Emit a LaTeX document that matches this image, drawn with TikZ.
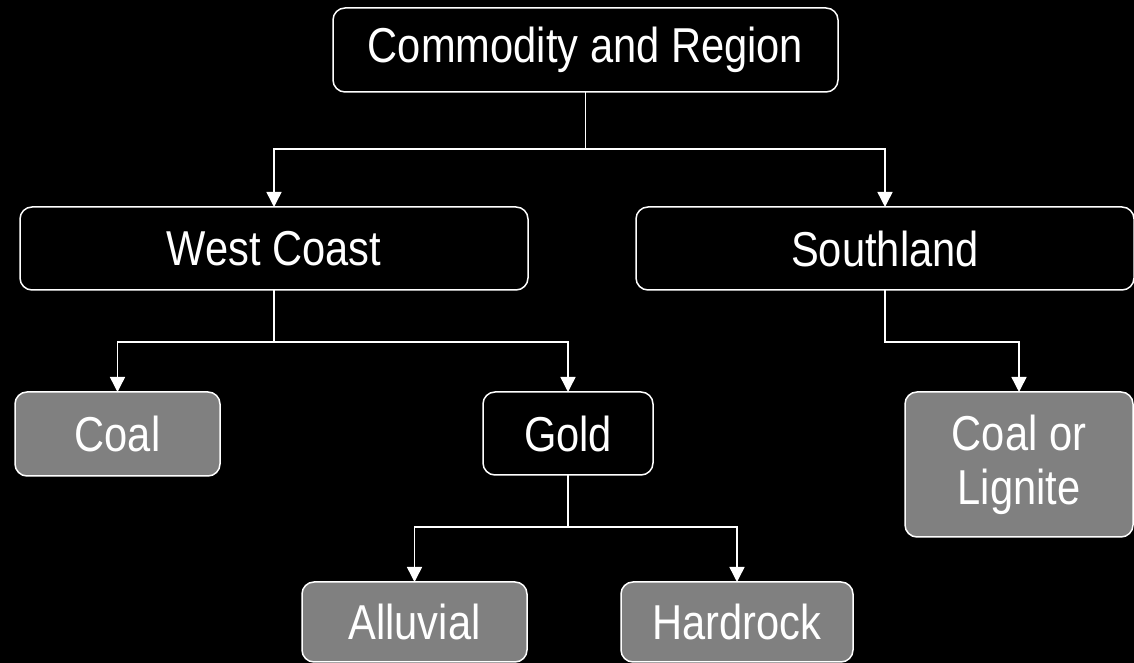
\documentclass[tikz,border=0pt]{standalone}
\usepackage{fontspec}
\setmainfont[FakeStretch=0.85]{Liberation Sans}
\usetikzlibrary{arrows.meta}
\begin{document}
\begin{tikzpicture}[x=1pt,y=1pt,
  box/.style={draw=white, line width=1.5pt, rounded corners=12pt, text=white,
    font=\fontsize{49}{54}\selectfont, align=center, inner sep=0pt, outer sep=0pt},
  darkbox/.style={box, fill=black},
  greybox/.style={box, fill=gray50},
  conn/.style={draw=white, line width=1.5pt, -{Triangle[width=15pt,length=15pt]}}
]
\definecolor{gray50}{HTML}{808080}
\useasboundingbox (0,0) rectangle (1134,663);
\fill[black] (0,0) rectangle (1134,663);

\node[darkbox, minimum width=505pt, minimum height=84pt] (top) at (585.5,613) {Commodity and Region};
\node[darkbox, minimum width=508pt, minimum height=83pt] (wc) at (274,414.5) {West Coast};
\node[darkbox, minimum width=498pt, minimum height=83pt] (sl) at (885,414.5) {Southland};
\node[greybox, minimum width=205pt, minimum height=84pt] (coal) at (117.5,229) {Coal};
\node[darkbox, minimum width=170pt, minimum height=83pt] (gold) at (568,229.5) {Gold};
\node[greybox, minimum width=228pt, minimum height=145pt] (cl) at (1019,198.5) {Coal or\\Lignite};
\node[greybox, minimum width=225pt, minimum height=80pt] (alluvial) at (414.5,41) {Alluvial};
\node[greybox, minimum width=232pt, minimum height=80pt] (hardrock) at (737,41) {Hardrock};

\draw[conn] (top.south) -- ++(0,-57) -| (wc.north);
\draw[conn] (top.south) -- ++(0,-57) -| (sl.north);
\draw[conn] (wc.south) -- ++(0,-52) -| (coal.north);
\draw[conn] (wc.south) -- ++(0,-52) -| (gold.north);
\draw[conn] (sl.south) -- ++(0,-52) -| (cl.north);
\draw[conn] (gold.south) -- ++(0,-52) -| (alluvial.north);
\draw[conn] (gold.south) -- ++(0,-52) -| (hardrock.north);
\end{tikzpicture}
\end{document}
